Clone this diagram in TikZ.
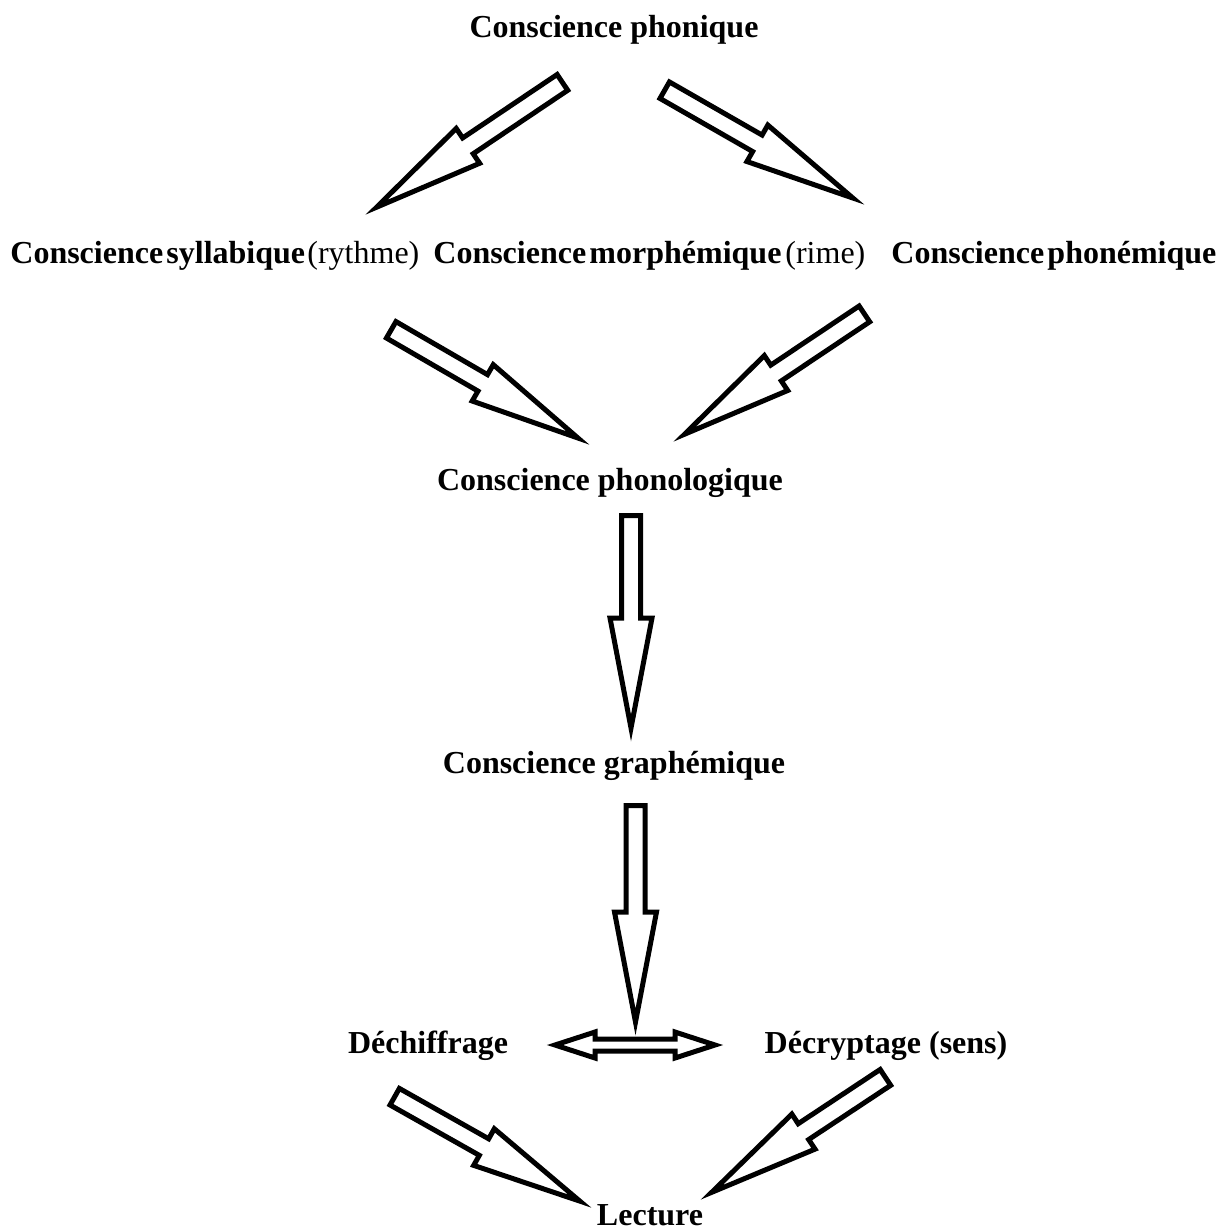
\documentclass[tikz,border=0pt]{standalone}
\usepackage{fontspec}
\setmainfont{Liberation Serif}
\usetikzlibrary{calc}
\tikzset{
  lbl/.style={font=\bfseries\fontsize{16}{19}\selectfont, inner sep=0pt, anchor=base},
  lblw/.style={font=\bfseries\fontsize{16}{19}\selectfont, inner sep=0pt, anchor=base west},
  lblr/.style={font=\fontsize{16}{19}\selectfont, inner sep=0pt, anchor=base west},
  blockarrow/.style={draw=black, line width=2.5pt, fill=white, line join=miter, miter limit=12},
}
\def\sw{4.75pt}
\def\hw{10.5pt}
\def\hl{55pt}
\newcommand\blockarrow[2]{%
  \coordinate (hb) at ($(#2)!\hl!(#1)$);
  \draw[blockarrow] ($(#1)!\sw!90:(#2)$) -- ($(hb)!\sw!-90:(#1)$) -- ($(hb)!\hw!-90:(#1)$) -- (#2)
    -- ($(hb)!\hw!90:(#1)$) -- ($(hb)!\sw!90:(#1)$) -- ($(#1)!\sw!-90:(#2)$) -- cycle;
}
\newcommand\tsp{\hspace{0.1em}}
\begin{document}
\begin{tikzpicture}[x=0.5pt,y=-0.5pt]
\useasboundingbox (0,0) rectangle (1229,1231);
% labels
\node[lbl] (phonique) at (614,37) {Conscience phonique};
\node[lblw] (syll) at (10,263) {Conscience\tsp syllabique};
\node[lblr] (rythme) at (307,263) {(rythme)};
\node[lblw] (morph) at (433,263) {Conscience\tsp morphémique};
\node[lblr] (rime) at (785,263) {(rime)};
\node[lblw] (phonem) at (891,263) {Conscience\tsp phonémique};
\node[lbl] (phonol) at (610,490) {Conscience phonologique};
\node[lbl] (graph) at (614,773) {Conscience graphémique};
\node[lbl] (dechif) at (428,1053) {Déchiffrage};
\node[lbl] (decryp) at (886,1053) {Décryptage (sens)};
\node[lbl] (lecture) at (650,1225) {Lecture};
% arrow ends
\coordinate (a1s) at (562.4,82.4);  \coordinate (a1e) at (376.6,207.2);
\coordinate (a2s) at (664.7,90.2);  \coordinate (a2e) at (852.8,198.0);
\coordinate (a3s) at (391.2,329.8); \coordinate (a3e) at (577.9,438.0);
\coordinate (a4s) at (864.4,313.9); \coordinate (a4e) at (684.6,434.2);
\coordinate (a5s) at (631,515.5);   \coordinate (a5e) at (631,728);
\coordinate (a6s) at (635.5,805.5); \coordinate (a6e) at (635.5,1022);
\coordinate (a7s) at (394.7,1096.7); \coordinate (a7e) at (579.8,1201.1);
\coordinate (a8s) at (885.4,1077.4); \coordinate (a8e) at (711.7,1192.3);
\blockarrow{a1s}{a1e}
\blockarrow{a2s}{a2e}
\blockarrow{a3s}{a3e}
\blockarrow{a4s}{a4e}
\blockarrow{a5s}{a5e}
\blockarrow{a6s}{a6e}
\blockarrow{a7s}{a7e}
\blockarrow{a8s}{a8e}
% double arrow
\coordinate (dl) at (555,1045);
\coordinate (dr) at (715,1045);
\draw[blockarrow] (dl) -- ($(dl)+(40,-13)$) -- ($(dl)+(40,-6)$) -- ($(dr)+(-40,-6)$) -- ($(dr)+(-40,-13)$) -- (dr)
  -- ($(dr)+(-40,13)$) -- ($(dr)+(-40,6)$) -- ($(dl)+(40,6)$) -- ($(dl)+(40,13)$) -- cycle;
\end{tikzpicture}
\end{document}
